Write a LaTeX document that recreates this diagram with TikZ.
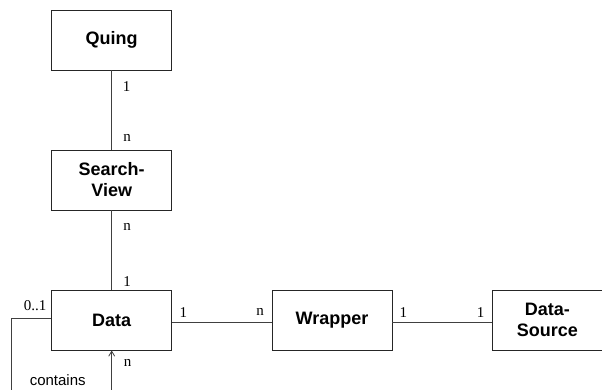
\documentclass[tikz,border=0pt]{standalone}
\usepackage{fontspec}
\setmainfont{Liberation Serif}
\setsansfont{Liberation Sans}
\usetikzlibrary{arrows.meta,calc}
\begin{document}
\begin{tikzpicture}[x=1pt,y=-1pt,
  entity/.style={draw=black!85,line width=0.9pt,minimum width=120pt,minimum height=60pt,inner sep=0pt,
    font=\sffamily\bfseries\fontsize{18}{21}\selectfont,align=center},
  conn/.style={draw=black!75,line width=0.8pt},
  mult/.style={font=\fontsize{15}{17}\selectfont,inner sep=0pt},
  rolelbl/.style={font=\sffamily\fontsize{15}{17}\selectfont,inner sep=0pt}]
\useasboundingbox (0,0) rectangle (602,389);
\clip (0,0) rectangle (602,389);
\node[entity] (quing) at (111.7,40) {Quing};
\node[entity] (sv) at (111.7,180) {Search-\\View};
\node[entity] (data) at (111.7,320) {Data};
\node[entity] (wrap) at (332,320) {Wrapper};
\node[entity,label={[font=\sffamily\bfseries\fontsize{18}{21}\selectfont,align=center,xshift=-5pt]center:Data-\\Source}] (dsrc) at (552.3,320) {};
\coordinate (lc1) at (11.7,318.3);
\coordinate (lc2) at (11.7,400);
\coordinate (lc3) at (111.7,400);
\draw[conn] (quing) -- (sv);
\draw[conn] (sv) -- (data);
\draw[conn] ([yshift=-2.3pt]data.east) -- ([yshift=-2.3pt]wrap.west);
\draw[conn] ([yshift=-2.3pt]wrap.east) -- ([yshift=-2.3pt]dsrc.west);
\draw[conn,-{Straight Barb[length=5pt,width=6pt,line width=0.8pt]}] (data.west |- lc1) -- (lc1) -- (lc2) -- (lc3) -- (data.south);
\node[mult] (m1) at (126.5,86.5) {1};
\node[mult] (m2) at (127,138) {n};
\node[mult] (m3) at (127,226.5) {n};
\node[mult] (m4) at (127,281.5) {1};
\node[mult] (m5) at (35,305.5) {0..1};
\node[mult] (m6) at (183.3,313) {1};
\node[mult] (m7) at (260,311.5) {n};
\node[mult] (m8) at (403.3,313) {1};
\node[mult] (m9) at (480.5,313) {1};
\node[mult] (m10) at (127.5,362.5) {n};
\node[rolelbl] (r1) at (57.7,380.5) {contains};
\end{tikzpicture}
\end{document}
